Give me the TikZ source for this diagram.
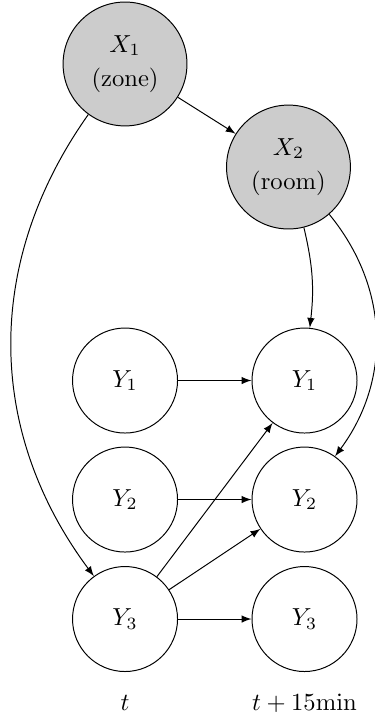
\documentclass[tikz,border=0pt]{standalone}
\usepackage{amsmath}
\usetikzlibrary{arrows}

\begin{document}
\begin{tikzpicture}[
  var/.style={circle, draw, minimum size=1.5cm},
  ctx/.style={circle, draw, fill=gray!40, minimum size=1.77cm, align=center},
  >=latex]
  \useasboundingbox (0,0) rectangle (5.343,-10.257);
  \node[ctx] (x1) at (1.786,-0.914) {$X_1$\\[2pt](zone)};
  \node[ctx] (x2) at (4.121,-2.386) {$X_2$\\[2pt](room)};
  \node[var] (y1t) at (1.786,-5.436) {$Y_1$};
  \node[var] (y2t) at (1.786,-7.136) {$Y_2$};
  \node[var] (y3t) at (1.786,-8.843) {$Y_3$};
  \node[var] (y1n) at (4.35,-5.436) {$Y_1$};
  \node[var] (y2n) at (4.35,-7.136) {$Y_2$};
  \node[var] (y3n) at (4.35,-8.843) {$Y_3$};
  \node[anchor=base] (tnow) at (1.786,-10.143) {$t$};
  \node[anchor=base] (tnext) at (4.35,-10.143) {$t + 15\mathrm{min}$};
  \path[->]
  (x1) edge (x2)
       edge [bend right=36] (y3t)
  (x2) edge [bend left=10] (y1n)
       edge [bend left=38] (y2n)
  (y1t) edge (y1n)
  (y2t) edge (y2n)
  (y3t) edge (y3n)
        edge (y1n)
        edge (y2n)
  ;
\end{tikzpicture}
\end{document}
